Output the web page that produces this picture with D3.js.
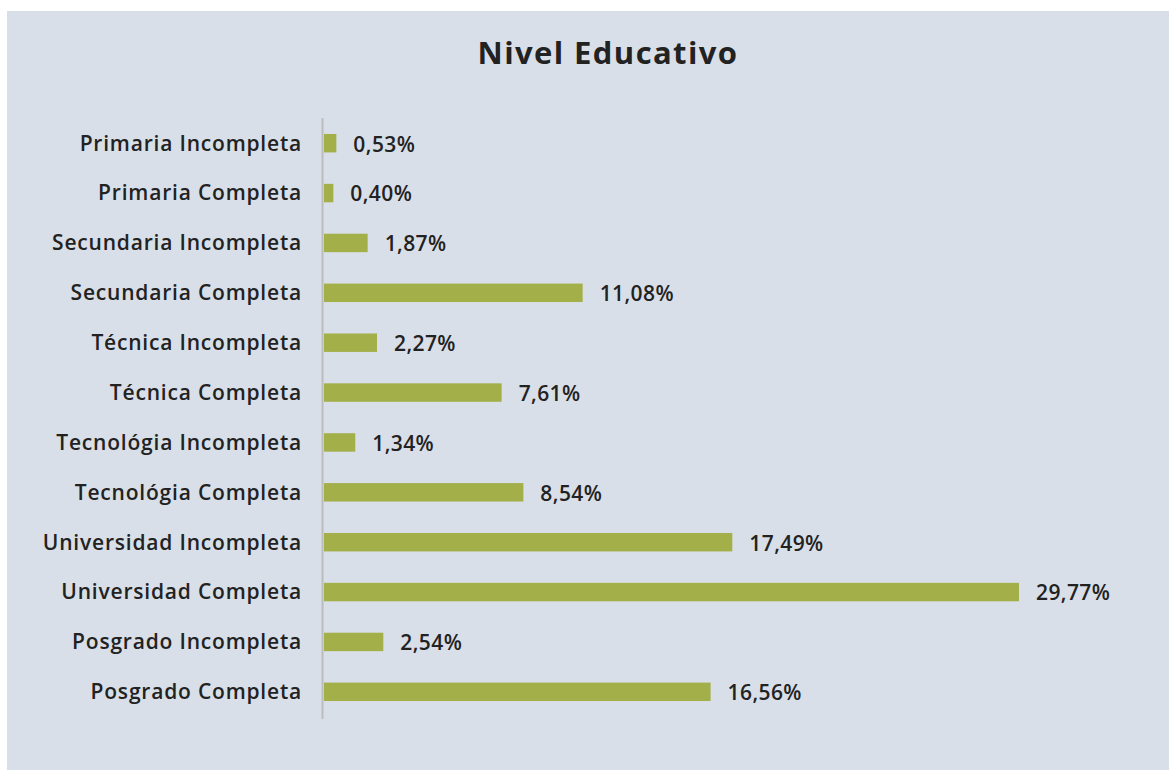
<!DOCTYPE html>
<html>
<head>
<meta charset="utf-8">
<script src="https://cdn.jsdelivr.net/npm/d3@7"></script>
<style>
  body { margin: 0; background: #fff; }
  svg { display: block; }
  text { font-family: "Open Sans", sans-serif; fill: #222; }
</style>
</head>
<body>
<svg id="chart" width="1169" height="770"></svg>
<script>
// data
const categories = [
  "Primaria Incompleta", "Primaria Completa", "Secundaria Incompleta", "Secundaria Completa",
  "Técnica Incompleta", "Técnica Completa", "Tecnológia Incompleta", "Tecnológia Completa",
  "Universidad Incompleta", "Universidad Completa", "Posgrado Incompleta", "Posgrado Completa"
];
const values = [0.53, 0.40, 1.87, 11.08, 2.27, 7.61, 1.34, 8.54, 17.49, 29.77, 2.54, 16.56];
const title = "Nivel Educativo";

const svg = d3.select("#chart");

// panel
svg.append("rect")
  .attr("x", 7).attr("y", 11)
  .attr("width", 1162).attr("height", 759)
  .attr("fill", "#d9dfe8");

svg.append("text")
  .attr("x", 608).attr("y", 64)
  .attr("text-anchor", "middle")
  .style("font-size", "31px")
  .style("font-weight", 700)
  .style("letter-spacing", "1.4px")
  .text(title);

const x0 = 324;
const x = d3.scaleLinear().domain([0, 29.77]).range([x0, 1019]);
const y = d3.scaleBand().domain(categories).range([119, 716]).paddingInner(0.63).paddingOuter(0.3);

const fmt = v => d3.format(".2f")(v).replace(".", ",") + "%";

svg.append("line")
  .attr("x1", 322.5).attr("x2", 322.5)
  .attr("y1", 118).attr("y2", 719)
  .attr("stroke", "#bcbcbc").attr("stroke-width", 2);

const rows = svg.selectAll("g.row")
  .data(categories.map((c, i) => ({ c, v: values[i] })))
  .enter().append("g").attr("class", "row");

rows.append("rect")
  .attr("x", x0)
  .attr("y", d => y(d.c))
  .attr("width", d => x(d.v) - x0)
  .attr("height", y.bandwidth())
  .attr("fill", "#a3b04a");

rows.append("text")
  .attr("x", 302)
  .attr("y", d => y(d.c) + y.bandwidth() / 2)
  .attr("dy", "0.35em")
  .attr("text-anchor", "end")
  .style("font-size", "21px")
  .style("font-weight", 600)
  .style("letter-spacing", "0.8px")
  .text(d => d.c);

rows.append("text")
  .attr("x", d => x(d.v) + 17)
  .attr("y", d => y(d.c) + y.bandwidth() / 2 + 1)
  .attr("dy", "0.35em")
  .style("font-size", "21px")
  .style("font-weight", 600)
  .style("letter-spacing", "0.4px")
  .text(d => fmt(d.v));
</script>
</body>
</html>
